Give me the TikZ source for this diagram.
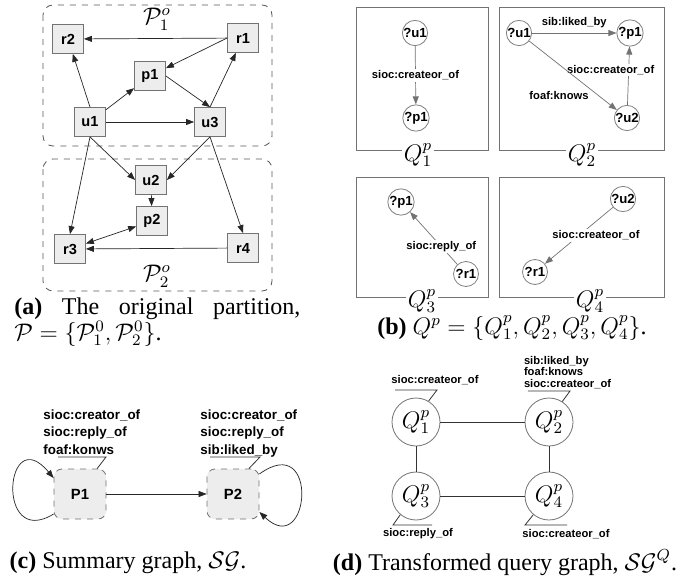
\documentclass[tikz,border=0pt]{standalone}
\usepackage{fontspec}
\setmainfont{Liberation Serif}
\setsansfont{Liberation Sans}
\usetikzlibrary{arrows.meta}
\begin{document}
\begin{tikzpicture}
            [x = 0.5pt, y = -0.5pt,
             > = {Triangle[length = 4pt, width = 3pt]},
             vertex/.style = {draw = black!55, fill = black!7, inner sep = 0pt,
                              minimum width = 15.5pt, minimum height = 14.5pt,
                              font = \sffamily\bfseries\fontsize{7.3}{8}\selectfont},
             partbox/.style = {draw = black!65, dashed, rounded corners = 5pt},
             link/.style = {->, draw = black!85, line width = 0.35pt},
             qframe/.style = {draw = black!55, line width = 0.45pt},
             qname/.style = {fill = white, inner sep = 1pt, font = \fontsize{12}{14}\selectfont},
             var/.style = {circle, draw = black!50, minimum size = 12.5pt, inner sep = 0pt,
                           font = \sffamily\bfseries\fontsize{6.6}{7}\selectfont},
             qlink/.style = {->, draw = black!55, line width = 0.35pt},
             tag/.style = {inner sep = 0.8pt, font = \sffamily\bfseries\fontsize{5.6}{5.9}\selectfont},
             bigtag/.style = {inner sep = 0pt, align = left,
                              font = \sffamily\bfseries\fontsize{6.7}{8.75}\selectfont},
             summ/.style = {draw = black!55, dashed, fill = black!7, rounded corners = 4pt,
                            minimum width = 26pt, minimum height = 25pt,
                            font = \sffamily\bfseries\fontsize{7.4}{8}\selectfont},
             qnode/.style = {circle, draw = black!55, minimum size = 24pt, inner sep = 0pt,
                             font = \fontsize{12}{14}\selectfont},
             pointer/.style = {draw = black!80, line width = 0.4pt},
             capt/.style = {inner sep = 0pt, font = \fontsize{12}{13}\selectfont}]
            \useasboundingbox[fill = white] (0,0) rectangle (690,583);

            \draw[partbox] (43,5) rectangle (272,146);
            \draw[partbox] (43,159) rectangle (272,291);
            \node[capt] (P1o) at (157,19) {$\mathcal{P}^o_1$};
            \node[capt] (P2o) at (157,276) {$\mathcal{P}^o_2$};
            \node[vertex] (r2) at (68,39) {r2};
            \node[vertex] (r1) at (243,38) {r1};
            \node[vertex] (p1) at (150,76) {p1};
            \node[vertex] (u1) at (90,122) {u1};
            \node[vertex] (u3) at (210,122) {u3};
            \node[vertex] (u2) at (151,180) {u2};
            \node[vertex] (p2) at (152,221) {p2};
            \node[vertex] (r3) at (70,249) {r3};
            \node[vertex] (r4) at (243,248) {r4};
            \draw[link] (r1) -- (r2);
            \draw[link] (r1.west) -- (p1);
            \draw[link] (p1.east) -- (u3.north);
            \draw[link] (u3.north) -- (r1);
            \draw[link] (u1.north) -- (r2);
            \draw[link] (u1) -- (p1);
            \draw[link] (u1) -- (u3);
            \draw[link] (u1.south) -- (u2.west);
            \draw[link] (u1.south) -- (r3.north);
            \draw[link] (u3.south) -- (u2.east);
            \draw[link] (u3.south) -- (r4.north);
            \draw[link] (u2) -- (p2);
            \draw[link, <->] (r3) -- (p2);
            \draw[link] (r4) -- (r3);
            \node[capt, text width = 143pt, align = justify, anchor = north west] (capa) at (14,297)
                {\textbf{(a)} The original partition, $\mathcal{P}=\{\mathcal{P}^0_1,\mathcal{P}^0_2\}$.};

            \draw[qframe] (356,7) rectangle (488,150);
            \draw[qframe] (499,7) rectangle (664,150);
            \draw[qframe] (356,177) rectangle (488,297);
            \draw[qframe] (499,177) rectangle (664,297);
            \node[qname] (n1) at (418,155) {$Q^p_1$};
            \node[qname] (n2) at (582,155) {$Q^p_2$};
            \node[qname] (n3) at (422,301) {$Q^p_3$};
            \node[qname] (n4) at (590,301) {$Q^p_4$};
            \node[var] (a1) at (415,33) {?u1};
            \node[var] (a2) at (416,118) {?p1};
            \draw[qlink] (a1) -- node[tag, fill = white] {sioc:createor\_of} (a2);
            \node[var] (b1) at (519,33) {?u1};
            \node[var] (b2) at (630,33) {?p1};
            \node[var] (b3) at (627,118) {?u2};
            \draw[qlink] (b1) -- node[tag, above = 1.5pt] {sib:liked\_by} (b2);
            \draw[qlink] (b3) -- node[tag, fill = white, pos = 0.6, xshift = -9pt] {sioc:createor\_of} (b2);
            \draw[qlink] (b1) -- node[tag, pos = 0.7, anchor = north east] {foaf:knows} (b3);
            \node[var] (c1) at (401,202) {?p1};
            \node[var] (c2) at (466,274) {?r1};
            \draw[qlink] (c2) -- node[tag, fill = white, pos = 0.34] {sioc:reply\_of} (c1);
            \node[var] (d1) at (623,199) {?u2};
            \node[var] (d2) at (535,272) {?r1};
            \draw[qlink] (d1) -- node[tag, fill = white, xshift = 8.5pt] {sioc:createor\_of} (d2);
            \node[capt] (capb) at (512,328)
                {\textbf{(b)} $Q^p=\{Q^p_1,Q^p_2,Q^p_3,Q^p_4\}$.};

            \node[summ] (P1) at (80,494) {P1};
            \node[summ] (P2) at (233,494) {P2};
            \draw[link] (P1) -- (P2);
            \draw[link] ([yshift = -10pt]P1.west) .. controls (-5,550) and (5,420) .. ([yshift = 8pt]P1.west);
            \draw[link] ([yshift = 10pt]P2.east) .. controls (320,430) and (310,560) .. ([yshift = -9pt]P2.east);
            \node[bigtag, anchor = north west] (t1) at (43,409) {sioc:creator\_of\\sioc:reply\_of\\foaf:konws};
            \node[bigtag, anchor = north west] (t2) at (200,409) {sioc:creator\_of\\sioc:reply\_of\\sib:liked\_by};
            \draw[pointer] (58,457) -- (106,457) -- (P1.56);
            \draw[pointer] (210,457) -- (260,457) -- (P2.58);
            \node[capt] (capc) at (128,563) {\textbf{(c)} Summary graph, $\mathcal{SG}$.};

            \node[qnode] (Q1) at (416,422) {$Q^p_1$};
            \node[qnode] (Q2) at (549,422) {$Q^p_2$};
            \node[qnode] (Q3) at (416,496) {$Q^p_3$};
            \node[qnode] (Q4) at (549,496) {$Q^p_4$};
            \draw[pointer] (Q1) -- (Q2);
            \draw[pointer] (Q1) -- (Q3);
            \draw[pointer] (Q2) -- (Q4);
            \draw[pointer] (Q3) -- (Q4);
            \node[tag] (s1) at (435,380) {sioc:createor\_of};
            \node[tag, align = left, anchor = north west] (s2) at (522,354) {sib:liked\_by\\foaf:knows\\sioc:createor\_of};
            \node[tag] (s3) at (418,534) {sioc:reply\_of};
            \node[tag] (s4) at (566,534) {sioc:createor\_of};
            \draw[pointer] (395,390) -- (437,390) -- (Q1.59);
            \draw[pointer] (528,391) -- (570,391) -- (Q2.57);
            \draw[pointer] (Q3.230) -- (393,525) -- (432,525);
            \draw[pointer] (Q4.230) -- (525,525) -- (567,525);
            \node[capt] (capd) at (505,563) {\textbf{(d)} Transformed query graph, $\mathcal{SG}^Q$.};
        \end{tikzpicture}
\end{document}
